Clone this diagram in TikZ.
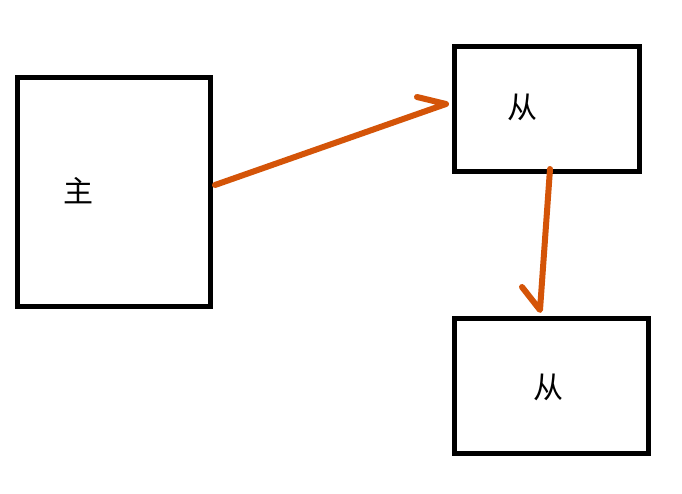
\documentclass[tikz,border=0pt]{standalone}
\usepackage{fontspec}
\newfontfamily\cjk{Noto Sans CJK SC}
\definecolor{arrowor}{RGB}{212,84,8}
\begin{document}
\begin{tikzpicture}[x=1pt,y=-1pt,
  boxst/.style={draw=black,line width=5pt,rectangle,inner sep=0pt},
  lbl/.style={font=\cjk\fontsize{30}{31}\selectfont,inner sep=0pt},
  arr/.style={draw=arrowor,line width=6pt,line cap=round,line join=round}]
\useasboundingbox (0,0) rectangle (682,494);
\fill[white] (0,0) rectangle (682,494);
\node[boxst,minimum width=193pt,minimum height=228pt] (main) at (113.5,192) {};
\node[boxst,minimum width=185pt,minimum height=125pt] (s1) at (546.5,109.5) {};
\node[boxst,minimum width=194pt,minimum height=135pt] (s2) at (551,385.5) {};
\node[lbl] (t0) at (78,191) {主};
\node[lbl] (t1) at (522,107) {从};
\node[lbl] (t2) at (548,387) {从};
\coordinate (a1s) at (215,185);
\coordinate (a1e) at (446,104);
\coordinate (a1b) at (417,97);
\coordinate (a2s) at (550,169);
\coordinate (a2e) at (540,310);
\coordinate (a2b) at (522,287);
\draw[arr] (a1s) -- (a1e) -- (a1b);
\draw[arr] (a2s) -- (a2e) -- (a2b);
\end{tikzpicture}
\end{document}
